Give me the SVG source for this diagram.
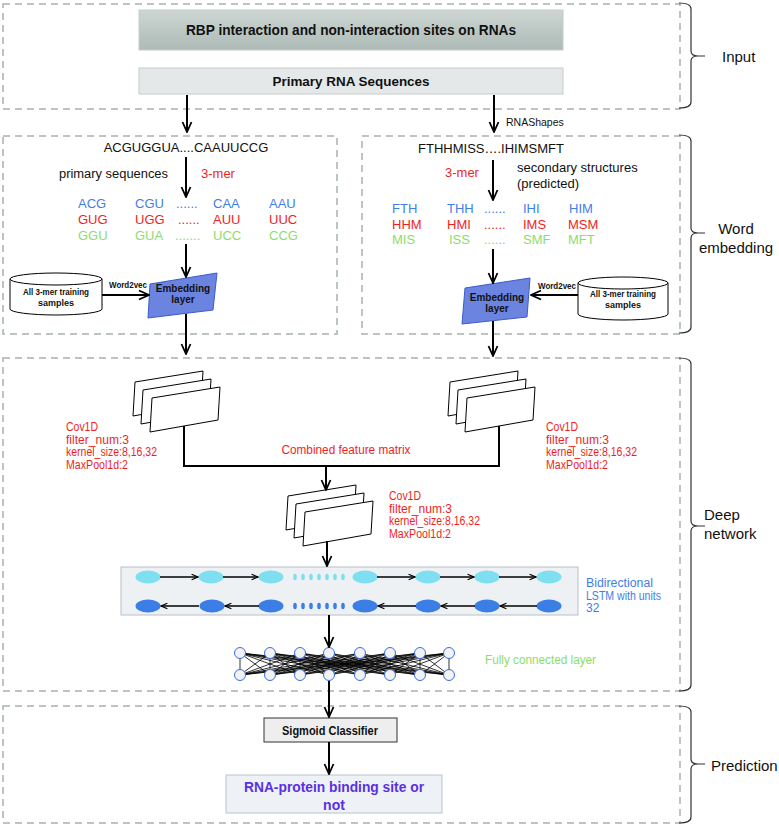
<svg xmlns="http://www.w3.org/2000/svg" xmlns:xlink="http://www.w3.org/1999/xlink" width="779" height="825" viewBox="0 0 779 825">
<style>
.dash{fill:none;stroke:#a7b2ae;stroke-width:1.5;stroke-dasharray:7 5}
.brace{fill:none;stroke:#333;stroke-width:1.2}
.side{font-family:"Liberation Sans",Arial,sans-serif;font-size:15px;fill:#111}
.t{font-family:"Liberation Sans",Arial,sans-serif;fill:#111}
.b{font-family:"Liberation Sans",Arial,sans-serif;font-weight:bold;fill:#111}
.km{font-family:"Liberation Sans",Arial,sans-serif;font-size:13px}
.blue{fill:#3f7ee8}.red{fill:#f01e1e}.green{fill:#8ddc6c}
.rl{font-family:"Liberation Sans",Arial,sans-serif;font-size:12px;fill:#f01e1e}
.conn{fill:none;stroke:#000;stroke-width:2}
.thin{fill:none;stroke:#000;stroke-width:1.3}
.cyl{fill:#fff;stroke:#000;stroke-width:1}
.emb{fill:#6b84df;stroke:#3b5bc9;stroke-width:1}
.lc{fill:#7edff0}.ld{fill:#3b7ee6}
.node{fill:#f2f2f2;stroke:#3a6ee0;stroke-width:1}
</style>
<defs>
<linearGradient id="g1" x1="0" y1="0" x2="0" y2="1">
<stop offset="0" stop-color="#cdd6d3"/><stop offset="1" stop-color="#adbab6"/>
</linearGradient>
<marker id="arr" viewBox="0 0 12 12" refX="11" refY="6" markerWidth="12" markerHeight="12" markerUnits="userSpaceOnUse" orient="auto">
<path d="M1,1.5 L11,6 L1,10.5" fill="none" stroke="#000" stroke-width="1.8"/>
</marker>
<marker id="arrs" viewBox="0 0 10 10" refX="9" refY="5" markerWidth="8" markerHeight="8" markerUnits="userSpaceOnUse" orient="auto">
<path d="M1,1.5 L9,5 L1,8.5" fill="none" stroke="#000" stroke-width="1.4"/>
</marker>
<path id="sheet" d="M0,0 L68,-11 L66,22 L-2,34 Z" fill="#fff" stroke="#000" stroke-width="1"/>
</defs>

<rect width="779" height="825" fill="#fff"/>

<!-- section boxes -->
<g id="sections">
<rect class="dash" x="3" y="4" width="677" height="105"/>
<rect class="dash" x="3" y="136" width="334" height="198"/>
<rect class="dash" x="362" y="136" width="318" height="198"/>
<rect class="dash" x="3" y="358" width="677" height="333"/>
<rect class="dash" x="3" y="706" width="677" height="117"/>
</g>

<g id="braces">
<path class="brace" d="M679,3 Q691,3 691,9 L691,51 Q691,56 698,56 Q691,56 691,61 L691,102 Q691,108 679,108 M698,56 H705"/>
<path class="brace" d="M679,135 Q691,135 691,141 L691,228 Q691,233 698,233 Q691,233 691,238 L691,327 Q691,333 679,333 M698,233 H705"/>
<path class="brace" d="M679,358 Q691,358 691,364 L691,521 Q691,526 698,526 Q691,526 691,531 L691,685 Q691,691 679,691 M698,526 H705"/>
<path class="brace" d="M679,706 Q691,706 691,712 L691,759 Q691,764 698,764 Q691,764 691,769 L691,817 Q691,823 679,823 M698,764 H705"/>
<text class="side" x="722" y="62">Input</text>
<text class="side" x="736" y="234" text-anchor="middle">Word</text>
<text class="side" x="736" y="253" text-anchor="middle">embedding</text>
<text class="side" x="704" y="520">Deep</text>
<text class="side" x="704" y="539">network</text>
<text class="side" x="711" y="771">Prediction</text>
</g>

<!-- Input nodes -->
<g id="rbp-sites">
<rect x="139" y="10" width="424" height="40" fill="url(#g1)" stroke="#c5cdca" stroke-width="1"/>
<text class="b" x="351" y="35" font-size="14" text-anchor="middle" textLength="330" lengthAdjust="spacingAndGlyphs">RBP interaction and non-interaction sites on RNAs</text>
</g>
<g id="primary-rna">
<rect x="139" y="68" width="424" height="26" fill="#e5e8e8" stroke="#c8cccc" stroke-width="1"/>
<text class="b" x="351" y="86" font-size="13" text-anchor="middle" textLength="157" lengthAdjust="spacingAndGlyphs">Primary RNA Sequences</text>
</g>
<text class="t" x="506" y="126" font-size="10.5">RNAShapes</text>

<!-- Left word embedding -->
<g id="primary-seq">
<text class="t" x="186" y="152" font-size="13" text-anchor="middle">ACGUGGUA....CAAUUCCG</text>
<text class="t" x="59" y="178" font-size="12.5" textLength="109" lengthAdjust="spacingAndGlyphs">primary sequences</text>
<text class="km red" x="201" y="178">3-mer</text>
</g>
<g id="primary-kmers" class="km">
<text class="blue" x="78" y="208">ACG</text><text class="blue" x="135" y="208">CGU</text><text class="blue" x="176" y="208">......</text><text class="blue" x="213" y="208">CAA</text><text class="blue" x="269" y="208">AAU</text>
<text class="red" x="78" y="224">GUG</text><text class="red" x="135" y="224">UGG</text><text class="red" x="178" y="224">......</text><text class="red" x="213" y="224">AUU</text><text class="red" x="269" y="224">UUC</text>
<text class="green" x="78" y="240">GGU</text><text class="green" x="135" y="240">GUA</text><text class="green" x="175" y="240">.......</text><text class="green" x="213" y="240">UCC</text><text class="green" x="269" y="240">CCG</text>
</g>
<g id="left-samples">
<path class="cyl" d="M10,279 L10,309 A46,6 0 0 0 102,309 L102,279"/>
<ellipse class="cyl" cx="56" cy="279" rx="46" ry="6"/>
<text class="b" x="56" y="295" font-size="9" text-anchor="middle" textLength="66" lengthAdjust="spacingAndGlyphs">All 3-mer training</text>
<text class="b" x="56" y="306" font-size="9" text-anchor="middle">samples</text>
</g>
<text class="b" x="109" y="288" font-size="8.5" textLength="38" lengthAdjust="spacingAndGlyphs">Word2vec</text>
<g id="left-embedding">
<polygon class="emb" points="150,284 217,273 213,310 148,318"/>
<text class="b" x="183" y="292" font-size="10" text-anchor="middle">Embedding</text>
<text class="b" x="183" y="303" font-size="10" text-anchor="middle">layer</text>
</g>

<!-- Right word embedding -->
<g id="secondary-seq">
<text class="t" x="491" y="153" font-size="13" text-anchor="middle">FTHHMISS….IHIMSMFT</text>
<text class="km red" x="445" y="177">3-mer</text>
<text class="t" x="517" y="172" font-size="13">secondary structures</text>
<text class="t" x="517" y="188" font-size="13">(predicted)</text>
</g>
<g id="secondary-kmers" class="km">
<text class="blue" x="392" y="213">FTH</text><text class="blue" x="447" y="213">THH</text><text class="blue" x="484" y="213">......</text><text class="blue" x="523" y="213">IHI</text><text class="blue" x="569" y="213">HIM</text>
<text class="red" x="392" y="229">HHM</text><text class="red" x="447" y="229">HMI</text><text class="red" x="484" y="229">......</text><text class="red" x="523" y="229">IMS</text><text class="red" x="568" y="229">MSM</text>
<text class="green" x="392" y="244">MIS</text><text class="green" x="449" y="244">ISS</text><text class="green" x="484" y="244">......</text><text class="green" x="523" y="244">SMF</text><text class="green" x="568" y="244">MFT</text>
</g>
<g id="right-samples">
<path class="cyl" d="M578,283 L578,314 A45,6 0 0 0 668,314 L668,283"/>
<ellipse class="cyl" cx="623" cy="283" rx="45" ry="6"/>
<text class="b" x="623" y="297" font-size="9" text-anchor="middle" textLength="66" lengthAdjust="spacingAndGlyphs">All 3-mer training</text>
<text class="b" x="623" y="308" font-size="9" text-anchor="middle">samples</text>
</g>
<text class="b" x="538" y="289" font-size="8.5" textLength="38" lengthAdjust="spacingAndGlyphs">Word2vec</text>
<g id="right-embedding">
<polygon class="emb" points="465,288 530,278 527,317 462,324"/>
<text class="b" x="497" y="301" font-size="10" text-anchor="middle">Embedding</text>
<text class="b" x="497" y="312" font-size="10" text-anchor="middle">layer</text>
</g>

<!-- Deep network -->
<g id="conv-left">
<use href="#sheet" x="135" y="382"/><use href="#sheet" x="143" y="390"/><use href="#sheet" x="152" y="398"/>
<text class="rl" x="66" y="431" textLength="32" lengthAdjust="spacingAndGlyphs">Cov1D</text>
<text class="rl" x="66" y="443.5" textLength="63" lengthAdjust="spacingAndGlyphs">filter_num:3</text>
<text class="rl" x="66" y="456" textLength="91" lengthAdjust="spacingAndGlyphs">kernel_size:8,16,32</text>
<text class="rl" x="66" y="468.5" textLength="62" lengthAdjust="spacingAndGlyphs">MaxPool1d:2</text>
</g>
<g id="conv-right">
<use href="#sheet" x="450" y="382"/><use href="#sheet" x="458" y="390"/><use href="#sheet" x="467" y="398"/>
<text class="rl" x="546" y="431" textLength="32" lengthAdjust="spacingAndGlyphs">Cov1D</text>
<text class="rl" x="546" y="443.5" textLength="63" lengthAdjust="spacingAndGlyphs">filter_num:3</text>
<text class="rl" x="546" y="456" textLength="91" lengthAdjust="spacingAndGlyphs">kernel_size:8,16,32</text>
<text class="rl" x="546" y="468.5" textLength="62" lengthAdjust="spacingAndGlyphs">MaxPool1d:2</text>
</g>
<text class="rl" x="346" y="454" text-anchor="middle" font-size="12.5" textLength="129" lengthAdjust="spacingAndGlyphs">Combined feature matrix</text>
<g id="conv-center">
<use href="#sheet" x="288" y="496"/><use href="#sheet" x="296" y="504"/><use href="#sheet" x="305" y="512"/>
<text class="rl" x="389" y="500" textLength="32" lengthAdjust="spacingAndGlyphs">Cov1D</text>
<text class="rl" x="389" y="512.5" textLength="63" lengthAdjust="spacingAndGlyphs">filter_num:3</text>
<text class="rl" x="389" y="525" textLength="91" lengthAdjust="spacingAndGlyphs">kernel_size:8,16,32</text>
<text class="rl" x="389" y="537.5" textLength="62" lengthAdjust="spacingAndGlyphs">MaxPool1d:2</text>
</g>

<g id="bilstm">
<rect x="121" y="567" width="457" height="48" fill="#eef1f4" stroke="#b8c0c8" stroke-width="1"/>
<g class="lc">
<ellipse cx="148" cy="577" rx="12.5" ry="6.5"/><ellipse cx="211" cy="577" rx="12.5" ry="6.5"/><ellipse cx="271" cy="577" rx="12.5" ry="6.5"/>
<ellipse cx="365" cy="577" rx="12.5" ry="6.5"/><ellipse cx="428" cy="577" rx="12.5" ry="6.5"/><ellipse cx="487" cy="577" rx="12.5" ry="6.5"/><ellipse cx="549" cy="577" rx="12.5" ry="6.5"/>
<ellipse cx="295" cy="577" rx="1.8" ry="3.2"/><ellipse cx="303" cy="577" rx="1.8" ry="3.2"/><ellipse cx="311" cy="577" rx="1.8" ry="3.2"/><ellipse cx="319" cy="577" rx="1.8" ry="3.2"/><ellipse cx="327" cy="577" rx="1.8" ry="3.2"/><ellipse cx="335" cy="577" rx="1.8" ry="3.2"/><ellipse cx="343" cy="577" rx="1.8" ry="3.2"/>
</g>
<g class="ld">
<ellipse cx="148" cy="606" rx="12.5" ry="6.5"/><ellipse cx="212" cy="606" rx="12.5" ry="6.5"/><ellipse cx="271" cy="606" rx="12.5" ry="6.5"/>
<ellipse cx="365" cy="606" rx="12.5" ry="6.5"/><ellipse cx="428" cy="606" rx="12.5" ry="6.5"/><ellipse cx="487" cy="606" rx="12.5" ry="6.5"/><ellipse cx="549" cy="606" rx="12.5" ry="6.5"/>
<ellipse cx="295" cy="606" rx="1.8" ry="3.2"/><ellipse cx="303" cy="606" rx="1.8" ry="3.2"/><ellipse cx="311" cy="606" rx="1.8" ry="3.2"/><ellipse cx="319" cy="606" rx="1.8" ry="3.2"/><ellipse cx="327" cy="606" rx="1.8" ry="3.2"/><ellipse cx="335" cy="606" rx="1.8" ry="3.2"/><ellipse cx="343" cy="606" rx="1.8" ry="3.2"/>
</g>
<g class="thin">
<line x1="160" y1="577" x2="198" y2="577" marker-end="url(#arrs)"/>
<line x1="223" y1="577" x2="258" y2="577" marker-end="url(#arrs)"/>
<line x1="377" y1="577" x2="415" y2="577" marker-end="url(#arrs)"/>
<line x1="440" y1="577" x2="474" y2="577" marker-end="url(#arrs)"/>
<line x1="499" y1="577" x2="536" y2="577" marker-end="url(#arrs)"/>
<line x1="199" y1="606" x2="161" y2="606" marker-end="url(#arrs)"/>
<line x1="259" y1="606" x2="225" y2="606" marker-end="url(#arrs)"/>
<line x1="416" y1="606" x2="378" y2="606" marker-end="url(#arrs)"/>
<line x1="475" y1="606" x2="441" y2="606" marker-end="url(#arrs)"/>
<line x1="537" y1="606" x2="500" y2="606" marker-end="url(#arrs)"/>
</g>
<text x="586" y="587" font-family="Liberation Sans, Arial, sans-serif" font-size="12" fill="#3f7ee8" textLength="67" lengthAdjust="spacingAndGlyphs">Bidirectional</text>
<text x="586" y="599.5" font-family="Liberation Sans, Arial, sans-serif" font-size="12" fill="#3f7ee8" textLength="75" lengthAdjust="spacingAndGlyphs">LSTM with units</text>
<text x="586" y="612" font-family="Liberation Sans, Arial, sans-serif" font-size="12" fill="#3f7ee8">32</text>
</g>

<g id="fully-connected">
<path fill="none" stroke="#000" stroke-width="0.8" d="M240 653L240 675M240 653L270 675M240 653L300 675M240 653L329 675M240 653L360 675M240 653L390 675M240 653L420 675M240 653L449 675
M270 653L240 675M270 653L270 675M270 653L300 675M270 653L329 675M270 653L360 675M270 653L390 675M270 653L420 675M270 653L449 675
M300 653L240 675M300 653L270 675M300 653L300 675M300 653L329 675M300 653L360 675M300 653L390 675M300 653L420 675M300 653L449 675
M329 653L240 675M329 653L270 675M329 653L300 675M329 653L329 675M329 653L360 675M329 653L390 675M329 653L420 675M329 653L449 675
M360 653L240 675M360 653L270 675M360 653L300 675M360 653L329 675M360 653L360 675M360 653L390 675M360 653L420 675M360 653L449 675
M390 653L240 675M390 653L270 675M390 653L300 675M390 653L329 675M390 653L360 675M390 653L390 675M390 653L420 675M390 653L449 675
M420 653L240 675M420 653L270 675M420 653L300 675M420 653L329 675M420 653L360 675M420 653L390 675M420 653L420 675M420 653L449 675
M449 653L240 675M449 653L270 675M449 653L300 675M449 653L329 675M449 653L360 675M449 653L390 675M449 653L420 675M449 653L449 675"/>
<g class="node">
<circle cx="240" cy="653" r="5.5"/><circle cx="270" cy="653" r="5.5"/><circle cx="300" cy="653" r="5.5"/><circle cx="329" cy="653" r="5.5"/><circle cx="360" cy="653" r="5.5"/><circle cx="390" cy="653" r="5.5"/><circle cx="420" cy="653" r="5.5"/><circle cx="449" cy="653" r="5.5"/>
<circle cx="240" cy="675" r="5.5"/><circle cx="270" cy="675" r="5.5"/><circle cx="300" cy="675" r="5.5"/><circle cx="329" cy="675" r="5.5"/><circle cx="360" cy="675" r="5.5"/><circle cx="390" cy="675" r="5.5"/><circle cx="420" cy="675" r="5.5"/><circle cx="449" cy="675" r="5.5"/>
</g>
<text x="485" y="664" font-family="Liberation Sans, Arial, sans-serif" font-size="12" fill="#8ddc6c" textLength="111" lengthAdjust="spacingAndGlyphs">Fully connected layer</text>
</g>

<!-- Prediction -->
<g id="sigmoid">
<rect x="264" y="718" width="133" height="24" fill="#eeeeee" stroke="#333" stroke-width="1"/>
<text class="b" x="330" y="735" font-size="12" text-anchor="middle" textLength="96" lengthAdjust="spacingAndGlyphs">Sigmoid Classifier</text>
</g>
<g id="result">
<rect x="226" y="775" width="216" height="38" fill="#eef2f7" stroke="#b8c4cc" stroke-width="1"/>
<text x="334" y="792" font-family="Liberation Sans, Arial, sans-serif" font-weight="bold" font-size="14" fill="#5a30e0" text-anchor="middle" textLength="180" lengthAdjust="spacingAndGlyphs">RNA-protein binding site or</text>
<text x="334" y="810" font-family="Liberation Sans, Arial, sans-serif" font-weight="bold" font-size="14" fill="#5a30e0" text-anchor="middle">not</text>
</g>

<!-- connectors -->
<g id="connectors" class="conn">
<line x1="187" y1="95" x2="187" y2="132" marker-end="url(#arr)"/>
<line x1="494" y1="95" x2="494" y2="132" marker-end="url(#arr)"/>
<line x1="186" y1="157" x2="186" y2="197" marker-end="url(#arr)"/>
<line x1="186" y1="244" x2="186" y2="277" marker-end="url(#arr)"/>
<line x1="102" y1="295" x2="149" y2="295" marker-end="url(#arr)"/>
<line x1="186" y1="314" x2="186" y2="354" marker-end="url(#arr)"/>
<line x1="493" y1="160" x2="493" y2="200" marker-end="url(#arr)"/>
<line x1="493" y1="249" x2="493" y2="283" marker-end="url(#arr)"/>
<line x1="578" y1="295" x2="531" y2="295" marker-end="url(#arr)"/>
<line x1="493" y1="321" x2="493" y2="356" marker-end="url(#arr)"/>
<path d="M184,426 V466 H499 V426"/>
<line x1="326" y1="466" x2="326" y2="490" marker-end="url(#arr)"/>
<line x1="327" y1="541" x2="327" y2="566" marker-end="url(#arr)"/>
<line x1="329" y1="615" x2="329" y2="647" marker-end="url(#arr)"/>
<line x1="329" y1="681" x2="329" y2="717" marker-end="url(#arr)"/>
<line x1="329" y1="742" x2="329" y2="774" marker-end="url(#arr)"/>
</g>
</svg>
